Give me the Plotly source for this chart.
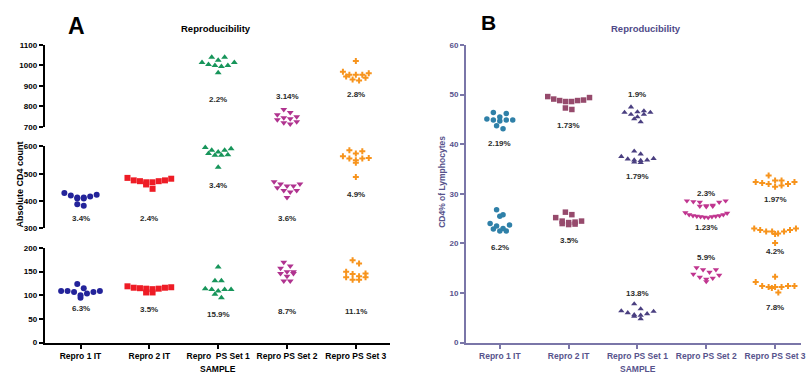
import plotly.graph_objects as go

W, H = 806, 373

cats_a = ["Repro 1 IT", "Repro 2 IT", "Repro  PS Set 1", "Repro PS Set 2", "Repro PS Set 3"]
cats_b = ["Repro 1 IT", "Repro 2 IT", "Repro PS Set 1", "Repro PS Set 2", "Repro PS Set 3"]

# ---------------- Panel A : absolute CD4 count ----------------
a_low = [
    [109, 107, 115, 104, 95, 109, 124, 100, 107, 109],
    [116, 115, 114, 113, 106, 106, 114, 116, 117, 119],
    [160, 131, 131, 114, 112, 109, 112, 112, 102, 95],
    [150, 146, 162, 140, 146, 170, 150, 157, 130, 130],
    [150, 167, 174, 140, 133, 133, 138, 138, 146, 145],
]
a_low_cv = ["6.3%", "3.5%", "15.9%", "8.7%", "11.1%"]
a_low_cv_y = [72, 69, 59, 66, 66]

a_mid = [
    [430, 421, 413, 410, 410, 413, 417, 423, 383, 389],
    [485, 476, 469, 461, 473, 445, 469, 476, 473, 482],
    [586, 574, 568, 592, 596, 568, 570, 580, 586, 524],
    [463, 455, 449, 433, 471, 439, 439, 455, 463, 413],
    [558, 550, 583, 540, 574, 556, 586, 556, 564, 488],
]
a_mid_cv = ["3.4%", "2.4%", "3.4%", "3.6%", "4.9%"]
a_mid_cv_y = [336, 336, 458, 338, 425]

a_high_cat = [2, 3, 4]
a_high = [
    [1040, 1040, 1025, 1015, 1015, 1005, 1000, 1000, 995, 965],
    [770, 785, 750, 745, 760, 725, 715, 720, 740, 735],
    [1022, 955, 955, 970, 962, 940, 932, 927, 946, 955],
]
a_high_cv = ["2.2%", "3.14%", "2.8%"]
a_high_cv_y = [833, 848, 856]

a_colors = ["#23239a", "#ee1c25", "#17955a", "#b0338f", "#f7941d"]
a_symbols = ["circle", "square", "triangle-up", "triangle-down", "cross"]
a_sizes = [6, 6, 6, 6, 5]

# ---------------- Panel B : CD4% of lymphocytes ----------------
b_cat = [0, 0, 1, 1, 2, 2, 2, 3, 3, 3, 4, 4, 4]
b_values = [
    [45.5, 44.9, 46.2, 44.9, 46.4, 44.7, 44.9, 45.1, 43.1, 43.7],
    [23.5, 22.9, 22.5, 25.5, 26.8, 24.0, 25.8, 22.5, 23.0, 23.7],
    [49.6, 48.9, 48.8, 48.6, 48.6, 48.8, 49.1, 49.4, 47.0, 47.3],
    [24.5, 24.3, 25.8, 24.0, 25.2, 23.8, 26.3, 23.9, 24.2, 24.5],
    [46.7, 46.4, 45.5, 46.0, 47.5, 46.0, 45.1, 44.5, 46.4, 46.5],
    [37.1, 36.8, 38.0, 36.7, 37.5, 38.6, 36.3, 36.4, 36.8, 37.0],
    [6.3, 5.8, 6.8, 5.5, 6.4, 4.8, 7.8, 5.3, 5.6, 6.0],
    [28.6, 28.3, 28.4, 28.3, 28.6, 27.5, 27.6, 27.5, 27.7, 27.4],
    [26.2, 25.8, 25.6, 25.5, 25.4, 25.2, 25.3, 25.4, 25.5, 25.6, 25.8, 26.1],
    [15.1, 14.7, 13.0, 12.3, 12.8, 13.8, 13.6, 14.2, 14.7, 13.2],
    [32.4, 32.2, 32.0, 33.7, 31.4, 32.7, 31.7, 32.0, 32.4, 32.7],
    [22.7, 23.0, 21.9, 23.0, 22.4, 22.4, 22.7, 20.1, 22.0, 22.4],
    [11.4, 11.2, 11.0, 12.2, 13.3, 10.1, 11.2, 11.2, 11.4, 11.4],
]
b_cv = ["2.19%", "6.2%", "1.73%", "3.5%", "1.9%", "1.79%", "13.8%",
        "2.3%", "1.23%", "5.9%", "1.97%", "4.2%", "7.8%"]
b_cv_y = [40.1, 19.2, 43.7, 20.6, 50.1, 33.5, 9.9, 30.1, 23.2, 17.1, 28.8, 18.4, 7.1]

b_colors = ["#2f80a8", "#964a6c", "#4a3f80", "#c0358f", "#f7941d"]
b_symbols = ["circle", "square", "triangle-up", "triangle-down", "cross"]
b_sizes = [5.5, 5.5, 5.5, 5.5, 5]

# ---------------- layout geometry ----------------
def px(p):
    return p / W


def py(p):
    return 1 - p / H


xa_dom = [px(45), px(392)]
xa_rng = [-0.52, 4.49]
ya_low_dom, ya_low_rng = [py(347), py(250)], [0, 200]
ya_mid_dom, ya_mid_rng = [py(230), py(146)], [300, 600]
ya_top_dom, ya_top_rng = [py(126), py(42)], [700, 1100]

xb_dom = [px(469), 1.0]
xb_rng = [-0.49, -0.49 + 337 / 69.25]
yb_dom, yb_rng = [py(347), py(42)], [0, 60]


def ppu(dom, rng, size):
    return (dom[1] - dom[0]) * size / (rng[1] - rng[0])


def swarm(values, ppu_y, ppu_x, step_px, row_px, max_w_px):
    n = len(values)
    order = sorted(range(n), key=lambda i: -values[i])
    rows, cur, start = [], [], None
    for i in order:
        if cur and (values[start] - values[i]) * ppu_y <= row_px:
            cur.append(i)
        else:
            if cur:
                rows.append(cur)
            cur, start = [i], i
    rows.append(cur)
    offs = [0.0] * n
    for row in rows:
        row.sort(key=lambda i: values[i])
        m = len(row)
        step = min(step_px, max_w_px / (m - 1)) if m > 1 else step_px
        for k, i in enumerate(row):
            if m % 2 == 1:
                slot = ((k + 1) // 2) * (1 if k % 2 else -1)
            else:
                slot = (k // 2 + 0.5) * (1 if k % 2 == 0 else -1)
            offs[i] = slot * step / ppu_x
    return offs


fig = go.Figure()
annots = []

FONT = "Arial, Liberation Sans, sans-serif"
BLUE_AX = "#7a76a8"
BLUE_TXT = "#57538c"

# Panel A traces
ppx_a = ppu(xa_dom, xa_rng, W)
segments = [
    ("y", a_low, list(range(5)), ya_low_dom, ya_low_rng, a_low_cv, a_low_cv_y),
    ("y2", a_mid, list(range(5)), ya_mid_dom, ya_mid_rng, a_mid_cv, a_mid_cv_y),
    ("y3", a_high, a_high_cat, ya_top_dom, ya_top_rng, a_high_cv, a_high_cv_y),
]
for yref, groups, cats, dom, rng, cvs, cvys in segments:
    ppy = ppu(dom, rng, H)
    for vals, c, cv, cvy in zip(groups, cats, cvs, cvys):
        offs = swarm(vals, ppy, ppx_a, 6.5, 5.0, 44)
        fig.add_trace(go.Scatter(
            x=[c + o for o in offs], y=vals, mode="markers", xaxis="x", yaxis=yref,
            cliponaxis=False, showlegend=False, hoverinfo="y",
            marker=dict(symbol=a_symbols[c], color=a_colors[c],
                        size=a_sizes[c], line=dict(width=0)),
        ))
        annots.append(dict(x=c, y=cvy, xref="x", yref=yref, text=cv, showarrow=False,
                           font=dict(family=FONT, size=8, color="#2a2a2a", weight="bold")))

# Panel B traces
ppx_b = ppu(xb_dom, xb_rng, W)
ppy_b = ppu(yb_dom, yb_rng, H)
for c in range(5):
    idx = [g for g in range(len(b_values)) if b_cat[g] == c]
    allv = [v for g in idx for v in b_values[g]]
    offs = swarm(allv, ppy_b, ppx_b, 6.5, 5.5, 42)
    fig.add_trace(go.Scatter(
        x=[c + o for o in offs], y=allv, mode="markers", xaxis="x2", yaxis="y4",
        cliponaxis=False, showlegend=False, hoverinfo="y",
        marker=dict(symbol=b_symbols[c], color=b_colors[c],
                    size=b_sizes[c], line=dict(width=0)),
    ))
    for g in idx:
        annots.append(dict(x=c, y=b_cv_y[g], xref="x2", yref="y4", text=b_cv[g],
                           showarrow=False,
                           font=dict(family=FONT, size=8, color="#2a2a2a", weight="bold")))

# Titles and labels
def paper_text(x, y, text, size, color, angle=0, weight="bold"):
    annots.append(dict(x=px(x), y=py(y), xref="paper", yref="paper", text=text,
                       showarrow=False, textangle=angle, xanchor="center", yanchor="middle",
                       font=dict(family=FONT, size=size, color=color, weight=weight)))


paper_text(77, 23, "A", 23, "#000000")
paper_text(217, 25, "Reproducibility", 9.5, "#000000")
paper_text(20, 185, "Absolute CD4 count", 9, "#000000", angle=-90)
paper_text(219, 374, "SAMPLE", 8.5, "#000000")

paper_text(492, 19, "B", 21, "#000000")
paper_text(650, 25, "Reproducibility", 9.5, "#4f4a88")
paper_text(444, 182, "CD4% of Lymphocytes", 8.5, BLUE_TXT, angle=-90)
paper_text(642, 374, "SAMPLE", 8.5, BLUE_TXT)


def yax(dom, rng, dtick, anchor, color="#000000", tcolor="#000000"):
    return dict(domain=dom, range=rng, dtick=dtick, tick0=rng[0], anchor=anchor,
                showline=True, linecolor=color, linewidth=2, ticks="outside",
                ticklen=4, tickwidth=1.5, tickcolor=color, showgrid=False,
                zeroline=False, tickfont=dict(family=FONT, size=8, color=tcolor, weight="bold"))


fig.update_layout(
    width=W, height=H, margin=dict(l=0, r=0, t=0, b=0),
    paper_bgcolor="white", plot_bgcolor="white", showlegend=False,
    xaxis=dict(domain=xa_dom, range=xa_rng, anchor="y", tickmode="array",
               tickvals=list(range(5)), ticktext=cats_a, showline=True,
               linecolor="#000000", linewidth=2, ticks="outside", ticklen=4,
               tickwidth=1.5, tickcolor="#000000", showgrid=False, zeroline=False,
               ticklabeloverflow="allow",
               tickfont=dict(family=FONT, size=8.5, color="#000000", weight="bold")),
    yaxis=yax(ya_low_dom, ya_low_rng, 50, "x"),
    yaxis2=yax(ya_mid_dom, ya_mid_rng, 100, "x"),
    yaxis3=yax(ya_top_dom, ya_top_rng, 100, "x"),
    xaxis2=dict(domain=xb_dom, range=xb_rng, anchor="y4", tickmode="array",
                tickvals=list(range(5)), ticktext=cats_b, showline=True,
                linecolor=BLUE_AX, linewidth=2, ticks="outside", ticklen=4,
                tickwidth=1.5, tickcolor=BLUE_AX, showgrid=False, zeroline=False,
                ticklabeloverflow="allow",
                tickfont=dict(family=FONT, size=8.5, color=BLUE_TXT, weight="bold")),
    yaxis4=yax(yb_dom, yb_rng, 10, "x2", color=BLUE_AX, tcolor=BLUE_TXT),
    annotations=annots,
)

fig.write_html("out.html")
